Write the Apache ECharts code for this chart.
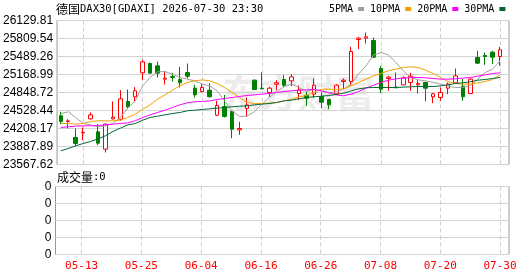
<!DOCTYPE html>
<html>
<head>
<meta charset="utf-8">
<script src="https://cdn.jsdelivr.net/npm/echarts@6/dist/echarts.min.js"></script>
<style>
  html, body { margin: 0; padding: 0; background: #fff; }
  #kline { width: 530px; height: 276px; }
</style>
</head>
<body>
<div id="kline"></div>
<script>
// trading days shown on the chart
const dates = ['05-08', '05-11', '05-12', '05-13', '05-14', '05-15', '05-18', '05-19', '05-20', '05-21',
    '05-22', '05-25', '05-26', '05-27', '05-28', '05-29', '06-01', '06-02', '06-03', '06-04',
    '06-05', '06-08', '06-09', '06-10', '06-11', '06-12', '06-15', '06-16', '06-17', '06-18',
    '06-19', '06-22', '06-23', '06-24', '06-25', '06-26', '06-29', '06-30', '07-01', '07-02',
    '07-03', '07-06', '07-07', '07-08', '07-09', '07-10', '07-13', '07-14', '07-15', '07-16',
    '07-17', '07-20', '07-21', '07-22', '07-23', '07-24', '07-27', '07-28', '07-29', '07-30'];

// [open, close, low, high]
const ohlc = [
    [24434, 24333, 24285, 24505], [24334, 24343, 24208, 24374], [24048, 23941, 23900, 24208],
    [24133, 24141, 24001, 24226], [24380, 24451, 24368, 24493], [24149, 23947, 23912, 24285],
    [23841, 24285, 23781, 24297], [24380, 24410, 24368, 24689], [24374, 24736, 24345, 24890],
    [24689, 24594, 24570, 24902], [24772, 24878, 24677, 24944], [25199, 25394, 25068, 25430],
    [25365, 25193, 25187, 25382], [25323, 25193, 25116, 25400], [25086, 25104, 24991, 25234],
    [25133, 25116, 25044, 25199], [25080, 25021, 24938, 25305], [25205, 25139, 25098, 25365],
    [24926, 24807, 24760, 24985], [24866, 24938, 24849, 24997], [24890, 24772, 24760, 25015],
    [24445, 24617, 24428, 24700], [24600, 24422, 24404, 24807], [24511, 24196, 24036, 24523],
    [24184, 24208, 24095, 24327], [24564, 24629, 24422, 24760], [25068, 24902, 24890, 25080],
    [24926, 24914, 24908, 25205], [24849, 24926, 24772, 24950], [24997, 25021, 24890, 25068],
    [25080, 24979, 24944, 25163], [25056, 25127, 24961, 25175], [24831, 24896, 24712, 24973],
    [24801, 24748, 24611, 24866], [24819, 24979, 24760, 25098], [24777, 24677, 24570, 24849],
    [24724, 24629, 24552, 24736], [24825, 24979, 24807, 24997], [25044, 25068, 24908, 25098],
    [25044, 25578, 24967, 25661], [25792, 25815, 25620, 25839], [25815, 25839, 25721, 25916],
    [25774, 25477, 25465, 25827], [25276, 24908, 24837, 25323], [25098, 25122, 24878, 25145],
    [24944, 24932, 24932, 25205], [24985, 25110, 24973, 25139], [25027, 25139, 24878, 25199],
    [24985, 25009, 24831, 25068], [25027, 24926, 24694, 25039], [24772, 24825, 24659, 24843],
    [24760, 24849, 24700, 24938], [24926, 24997, 24819, 25027], [25021, 25145, 25009, 25276],
    [24961, 24772, 24700, 25086], [24831, 25086, 24819, 25104], [25471, 25371, 25353, 25590],
    [25507, 25489, 25341, 25560], [25566, 25477, 25353, 25590], [25489, 25608, 25323, 25661]
];

// moving averages
const ma5 = [24475, 24505, 24404, 24297, 24273, 24238, 24256, 24297, 24404, 24570,
    24700, 24967, 25116, 25216, 25222, 25175, 25116, 25086, 25056, 24997,
    24967, 24878, 24700, 24523, 24422, 24428, 24505, 24641, 24760, 24867,
    24950, 24997, 24938, 24867, 24908, 24878, 24843, 24861, 24908, 24997,
    25175, 25323, 25513, 25560, 25519, 25383, 25234, 25116, 25074, 25056,
    25027, 24997, 24961, 24938, 24938, 24967, 25086, 25205, 25264, 25412];
const ma10 = [24297, 24297, 24285, 24297, 24333, 24345, 24345, 24345, 24356, 24404,
    24463, 24552, 24629, 24730, 24807, 24890, 24967, 25027, 25056, 25074,
    25056, 25009, 24938, 24849, 24760, 24671, 24653, 24653, 24659, 24671,
    24700, 24730, 24772, 24795, 24849, 24908, 24908, 24902, 24914, 24967,
    25027, 25086, 25145, 25187, 25234, 25264, 25294, 25305, 25294, 25246,
    25187, 25116, 25044, 25009, 24997, 24997, 25021, 25044, 25080, 25163];
const ma20 = [24226, 24238, 24250, 24256, 24256, 24262, 24273, 24285, 24297, 24309,
    24345, 24404, 24451, 24493, 24534, 24582, 24629, 24665, 24683, 24689,
    24700, 24724, 24742, 24760, 24778, 24795, 24807, 24819, 24831, 24849,
    24867, 24878, 24890, 24896, 24902, 24878, 24843, 24807, 24789, 24819,
    24867, 24926, 24979, 25027, 25068, 25092, 25104, 25116, 25116, 25110,
    25098, 25086, 25086, 25092, 25104, 25116, 25139, 25163, 25187, 25199];
const ma30 = [23811, 23852, 23900, 23941, 23977, 24024, 24078, 24155, 24214, 24273,
    24297, 24356, 24404, 24428, 24451, 24475, 24493, 24523, 24534, 24546,
    24558, 24570, 24582, 24594, 24606, 24611, 24629, 24641, 24653, 24671,
    24700, 24712, 24736, 24760, 24772, 24783, 24795, 24813, 24837, 24878,
    24914, 24932, 24938, 24938, 24938, 24938, 24944, 24950, 24955, 24955,
    24955, 24967, 24985, 25009, 25021, 25039, 25068, 25080, 25098, 25116];

const volumes = [0, 0, 0, 0, 0, 0, 0, 0, 0, 0, 0, 0, 0, 0, 0, 0, 0, 0, 0, 0,
    0, 0, 0, 0, 0, 0, 0, 0, 0, 0, 0, 0, 0, 0, 0, 0, 0, 0, 0, 0,
    0, 0, 0, 0, 0, 0, 0, 0, 0, 0, 0, 0, 0, 0, 0, 0, 0, 0, 0, 0];

const priceTicks = [26129.81, 25809.54, 25489.26, 25168.99, 24848.72, 24528.44, 24208.17, 23887.89, 23567.62];
const volTickLabels = ['0', '0', '0', '0', '0'];
const maNames = ['5PMA', '10PMA', '20PMA', '30PMA'];
const maColors = ['#a0a0a0', '#f5a000', '#ff00ff', '#006633'];

const chart = echarts.init(document.getElementById('kline'), null, { renderer: 'canvas' });

const labelIdx = dates.map((d, i) => i).filter(i => i % 8 === 3);
const priceMax = priceTicks[0];
const priceMin = priceTicks[priceTicks.length - 1];

const candleData = ohlc.map((d, i) => [i, d[0], d[1], d[2], d[3]]);
const maData = [ma5, ma10, ma20, ma30].map(arr => arr.map((v, i) => [i, v]));

const plainRich = {
    cn: { fontFamily: 'Noto Sans CJK SC', fontSize: 12, fontWeight: 'normal', color: '#000' },
    en: { fontFamily: 'DejaVu Sans Mono', fontSize: 10.5, fontWeight: 'normal', color: '#000' }
};

function xAxisFor(gridIndex, showLabel) {
    return {
        gridIndex: gridIndex,
        type: 'value',
        min: -0.5,
        max: 60.2,
        axisLine: { show: false },
        axisTick: { show: false, customValues: labelIdx },
        axisLabel: {
            show: showLabel,
            customValues: labelIdx,
            formatter: v => dates[v],
            color: '#ff0000',
            fontFamily: 'DejaVu Sans Mono',
            fontSize: 11,
            margin: 6
        },
        splitLine: { show: true, lineStyle: { color: '#cfcfcf', type: [4, 3] } }
    };
}

const option = {
    animation: false,
    title: [
        {
            text: '{cn|德国}{en|DAX30[GDAXI] 2026-07-30 23:30}',
            left: 56, top: 3, padding: 0,
            textStyle: { fontWeight: 'normal', rich: plainRich }
        },
        {
            text: '{cn|成交量}{en|:0}',
            left: 57, top: 171, padding: 0,
            textStyle: { fontWeight: 'normal', rich: plainRich }
        }
    ],
    legend: {
        data: maNames,
        left: 329, top: 4, padding: 0,
        itemGap: 6, itemWidth: 6, itemHeight: 4,
        align: 'right', icon: 'rect',
        textStyle: { fontFamily: 'DejaVu Sans Mono', fontSize: 10, color: '#000' }
    },
    graphic: [
        {
            type: 'text', left: 222, top: 74, z: -10, silent: true,
            style: { text: '东方财富', fill: '#ececec', font: 'bold 38px "Noto Sans CJK SC"' }
        }
    ],
    grid: [
        { left: 55.5, top: 20.5, width: 453.5, height: 144, show: true, borderColor: '#999', borderWidth: 1 },
        { left: 55.5, top: 186.5, width: 453.5, height: 68, show: true, borderColor: '#999', borderWidth: 1 }
    ],
    xAxis: [xAxisFor(0, false), xAxisFor(1, true)],
    yAxis: [
        {
            gridIndex: 0,
            min: priceMin, max: priceMax,
            interval: (priceMax - priceMin) / (priceTicks.length - 1),
            axisLine: { show: false }, axisTick: { show: false },
            axisLabel: {
                margin: 4, color: '#000', fontFamily: 'Liberation Sans', fontSize: 12,
                formatter: v => priceTicks.find(t => Math.abs(t - v) < 1).toFixed(2)
            },
            splitLine: { lineStyle: { color: '#d4d4d4' } }
        },
        {
            gridIndex: 1,
            min: 0, max: 4, interval: 1,
            axisLine: { show: false }, axisTick: { show: false },
            axisLabel: {
                margin: 4, color: '#000', fontFamily: 'Liberation Sans', fontSize: 12,
                formatter: (v, idx) => volTickLabels[idx]
            },
            splitLine: { lineStyle: { color: '#d4d4d4' } }
        }
    ],
    series: [
        {
            name: 'K',
            type: 'candlestick',
            xAxisIndex: 0, yAxisIndex: 0,
            data: candleData,
            encode: { x: 0, y: [1, 2, 3, 4] },
            barWidth: 4,
            itemStyle: {
                color: '#ffffff', color0: '#008000',
                borderColor: '#ff0000', borderColor0: '#008000', borderWidth: 1
            }
        },
        ...maNames.map((name, k) => ({
            name: name,
            type: 'line',
            xAxisIndex: 0, yAxisIndex: 0,
            data: maData[k],
            color: maColors[k],
            symbol: 'none',
            lineStyle: { width: 1, color: maColors[k] }
        })),
        {
            name: '成交量',
            type: 'bar',
            xAxisIndex: 1, yAxisIndex: 1,
            data: volumes.map((v, i) => [i, v]),
            barWidth: 4,
            itemStyle: { color: '#ff0000' }
        }
    ]
};

window.addEventListener('resize', function () {
    chart.resize();
});

option && chart.setOption(option);
</script>
</body>
</html>
